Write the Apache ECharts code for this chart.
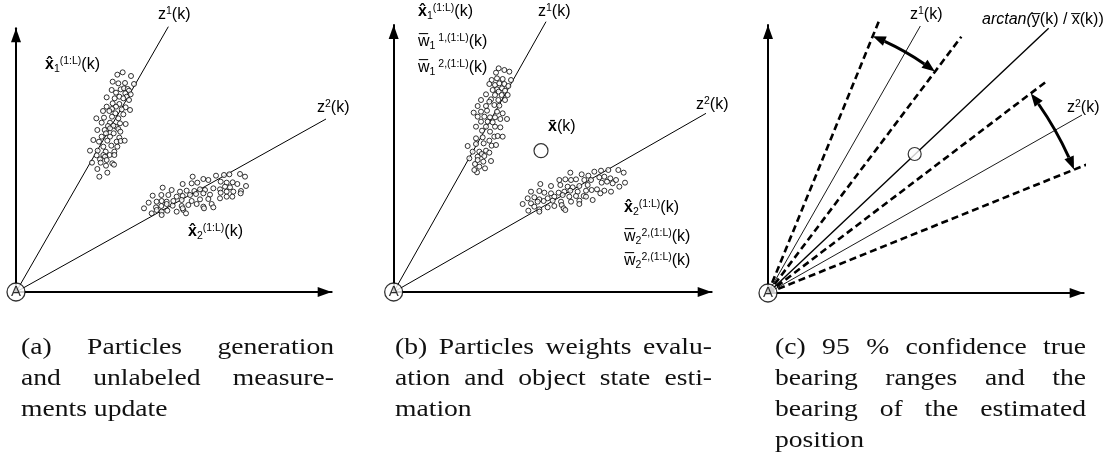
<!DOCTYPE html>
<html><head><meta charset="utf-8">
<script src="https://cdn.jsdelivr.net/npm/echarts@6/dist/echarts.min.js"></script>
<style>html,body{margin:0;padding:0;background:#fff}#c{width:1113px;height:461px}</style>
</head><body><div id="c"></div>
<script>
// ---------- DATA (units: arbitrary, origin = observer A) ----------
const origin = [0, 0];
// panel (a)
const bearingsA = [[457, 796], [930, 519]];            // z1(k), z2(k)
const cloudA1 = [[320,659],[304,652],[345,648],[290,631],[327,627],[307,626],[354,624],[314,608],[287,606],[324,611],[335,609],[339,604],[300,598],[328,596],[344,593],[272,584],[310,586],[332,586],[296,581],[322,581],[339,576],[290,566],[310,564],[272,556],[300,556],[329,554],[288,549],[317,548],[342,546],[261,543],[280,543],[298,536],[322,533],[241,521],[264,523],[288,526],[307,521],[257,508],[282,508],[312,506],[329,504],[276,498],[300,496],[292,499],[244,486],[266,486],[282,491],[307,489],[313,481],[270,476],[293,476],[257,466],[282,466],[310,463],[232,456],[249,451],[274,454],[302,451],[314,453],[326,454],[262,436],[286,439],[304,436],[222,424],[245,424],[269,421],[295,421],[242,410],[262,411],[281,411],[267,406],[295,411],[252,398],[272,396],[228,388],[254,388],[289,386],[270,379],[294,382],[244,369],[274,358],[250,346]];
const cloudA2 = [[530,346],[562,339],[600,349],[624,351],[640,353],[672,354],[687,346],[500,324],[527,326],[544,328],[577,336],[614,331],[632,328],[650,329],[664,324],[467,306],[440,313],[492,301],[512,304],[535,303],[552,308],[567,306],[592,311],[612,308],[627,316],[642,314],[652,301],[675,303],[690,318],[410,289],[436,291],[457,291],[482,286],[500,288],[522,291],[540,294],[562,296],[582,292],[614,298],[632,301],[649,286],[674,296],[398,268],[422,271],[437,273],[452,271],[472,273],[497,276],[527,273],[552,278],[577,279],[612,281],[632,286],[384,251],[420,254],[436,258],[452,264],[470,259],[497,258],[517,261],[542,264],[562,256],[587,264],[422,246],[437,241],[454,244],[482,241],[502,246],[510,236],[564,251],[592,254],[437,231],[407,236],[500,251]];
// panel (b)
const bearingsB = [[457, 811], [937, 536]];
const cloudB1 = [[315,671],[332,666],[307,658],[347,661],[294,636],[310,641],[327,639],[352,636],[287,624],[304,621],[317,626],[332,624],[344,618],[310,608],[325,611],[297,606],[315,601],[334,604],[277,593],[304,591],[324,591],[342,591],[292,578],[314,576],[334,576],[262,576],[287,571],[252,558],[277,558],[302,561],[317,559],[240,538],[262,541],[280,544],[310,541],[327,536],[252,526],[272,526],[289,524],[304,524],[320,519],[340,519],[262,511],[282,511],[297,509],[277,496],[304,496],[320,494],[247,496],[265,484],[289,481],[302,466],[312,468],[327,466],[247,461],[267,464],[287,454],[222,438],[247,444],[270,446],[294,439],[307,441],[237,421],[257,421],[277,424],[264,414],[287,418],[227,401],[252,406],[272,408],[292,393],[244,384],[269,391],[257,376],[274,371],[250,359],[242,366],[252,396]];
const cloudB2 = [[530,358],[564,353],[584,349],[602,361],[622,364],[644,366],[674,366],[690,358],[497,336],[515,338],[532,336],[547,338],[572,336],[592,336],[617,344],[632,346],[650,341],[667,336],[694,328],[440,324],[472,318],[500,321],[522,316],[537,314],[557,318],[582,321],[624,328],[640,331],[657,326],[677,316],[412,301],[437,303],[452,298],[472,296],[495,298],[512,301],[530,304],[552,301],[577,304],[594,306],[610,308],[632,304],[652,301],[402,281],[422,284],[437,278],[462,281],[482,286],[507,291],[527,286],[547,288],[570,288],[597,276],[620,296],[387,264],[412,266],[432,271],[450,273],[477,274],[502,271],[532,271],[557,274],[577,286],[404,244],[422,256],[437,248],[462,254],[482,258],[504,261],[510,251],[557,264],[437,241],[515,246]];
const estimateB = [[442, 424]];
// panel (c)
const bearingsC = [[457, 801], [942, 534]];
const confidenceC = [[332, 814], [580, 769], [837, 636], [1002, 404]];
const estBearingC = [842, 794];
const estimateC = [[440, 417]];
const rangeArcsC = [[832, 67.8, 53.0], [990, 37.2, 22.0]];   // radius, from-angle, to-angle (deg)

// labels
const labelsA = ['{n|z}{sup|1}{n|(k)}', '{b|x\u0302}{sub|1}{sup|(1:L)}{n|(k)}', '{n|z}{sup|2}{n|(k)}', '{b|x\u0302}{sub|2}{sup|(1:L)}{n|(k)}'];
const labelsB = ['{b|x\u0302}{sub|1}{sup|(1:L)}{n|(k)}', '{n|w\u0305}{sub|1}{sup| 1,(1:L)}{n|(k)}', '{n|w\u0305}{sub|1}{sup| 2,(1:L)}{n|(k)}', '{n|z}{sup|1}{n|(k)}', '{n|z}{sup|2}{n|(k)}', '{b|x\u0304}{n|(k)}', '{b|x\u0302}{sub|2}{sup|(1:L)}{n|(k)}', '{n|w\u0305}{sub|2}{sup|2,(1:L)}{n|(k)}', '{n|w\u0305}{sub|2}{sup|2,(1:L)}{n|(k)}'];
const labelsC = ['{n|z}{sup|1}{n|(k)}', '{i|arctan(}{s|y\u0305(k) / x\u0305(k))}', '{n|z}{sup|2}{n|(k)}'];
const captionA = [['(a)', 'Particles', 'generation'], ['and', 'unlabeled', 'measure-'], ['ments', 'update']];
const captionB = [['(b)', 'Particles', 'weights', 'evalu-'], ['ation', 'and', 'object', 'state', 'esti-'], ['mation']];
const captionC = [['(c)', '95', '%', 'confidence', 'true'], ['bearing', 'ranges', 'and', 'the'], ['bearing', 'of', 'the', 'estimated'], ['position']];

// ---------- LAYOUT ----------
const grids = [
  {left: 16, top: 28.33, width: 315.67, height: 263.67, xmax: 947, ymax: 791},
  {left: 393.67, top: 25, width: 318, height: 267, xmax: 954, ymax: 801},
  {left: 768, top: 25, width: 315.67, height: 268, xmax: 947, ymax: 804}
];
const labelPosA = [[158, 15], [45, 65], [317, 108], [188, 232]];
const labelPosB = [[418, 12], [418, 42], [418, 68], [538, 12], [696, 105], [548, 127], [624, 208], [624, 237], [624, 261]];
const labelPosC = [[910, 15], [982, 20], [1067, 108]];
const capBox = {a: [21, 334], b: [395, 712], c: [775, 1086]};
const capY = [348, 379, 410, 441];
const CAP_FONT = '"Liberation Serif", "Times New Roman", serif';
const CAP_SIZE = 23, CAP_SX = 1.2;

const chart = echarts.init(document.getElementById('c'), null, {renderer: 'canvas'});

function axis(i, max) {
  return {
    gridIndex: i, type: 'value', min: 0, max: max,
    axisLine: {show: true, onZero: false, symbol: ['none', 'triangle'], symbolSize: [10, 14], symbolOffset: [0, -7],
      lineStyle: {color: '#000', width: 2}},
    axisTick: {show: false}, axisLabel: {show: false}, splitLine: {show: false}
  };
}
function seg(i, end, style) {
  return {type: 'line', xAxisIndex: i, yAxisIndex: i, data: [origin, end], showSymbol: false, symbol: 'none',
    clip: false, silent: true, lineStyle: Object.assign({color: '#000', width: 1}, style), z: 2};
}
function cloud(i, pts) {
  return {type: 'scatter', xAxisIndex: i, yAxisIndex: i, data: pts, symbol: 'circle', symbolSize: 5, silent: true,
    itemStyle: {color: '#fff', borderColor: '#000', borderWidth: 1}, z: 3};
}
function marker(i, pts, size) {
  return {type: 'scatter', xAxisIndex: i, yAxisIndex: i, data: pts, symbol: 'circle', symbolSize: size, silent: true, clip: false,
    itemStyle: {color: '#fff', borderColor: '#000', borderWidth: 1.2}, z: 5};
}
function observer(i) {
  return {type: 'scatter', xAxisIndex: i, yAxisIndex: i, data: [origin], symbol: 'circle', symbolSize: 18, silent: true, clip: false,
    itemStyle: {color: '#fff', borderColor: '#000', borderWidth: 1.3}, z: 10,
    label: {show: true, position: 'inside', formatter: 'A', color: '#000', fontSize: 15, fontFamily: '"Liberation Sans", Arial'}};
}

const series = [];
bearingsA.forEach(b => series.push(seg(0, b)));
series.push(cloud(0, cloudA1), cloud(0, cloudA2), observer(0));
bearingsB.forEach(b => series.push(seg(1, b)));
series.push(cloud(1, cloudB1), cloud(1, cloudB2), marker(1, estimateB, 14), observer(1));
bearingsC.forEach(b => series.push(seg(2, b, {width: 0.9})));
confidenceC.forEach(b => series.push(seg(2, b, {width: 2.6, type: [7, 4]})));
series.push(seg(2, estBearingC, {width: 1.4}));
series.push(marker(2, estimateC, 13));
series.push({
  type: 'custom', xAxisIndex: 2, yAxisIndex: 2, data: rangeArcsC, silent: true, clip: false, z: 6,
  renderItem: function (params, api) {
    const c = api.coord(origin);
    const r = api.coord([api.value(0), 0])[0] - c[0];
    const a1 = api.value(1) * Math.PI / 180, a2 = api.value(2) * Math.PI / 180;
    const L = 13, W = 10, da = L / r;
    function head(a, sgn) {
      const tip = [c[0] + r * Math.cos(a), c[1] - r * Math.sin(a)];
      const d = [-Math.sin(a) * sgn, -Math.cos(a) * sgn];
      const n = [Math.cos(a), -Math.sin(a)];
      const b = [tip[0] - d[0] * L, tip[1] - d[1] * L];
      return {type: 'polygon', shape: {points: [tip, [b[0] + n[0] * W / 2, b[1] + n[1] * W / 2], [b[0] - n[0] * W / 2, b[1] - n[1] * W / 2]]}, style: {fill: '#000'}};
    }
    return {type: 'group', children: [
      {type: 'arc', shape: {cx: c[0], cy: c[1], r: r, startAngle: -(a1 - da), endAngle: -(a2 + da), clockwise: true},
        style: {stroke: '#000', lineWidth: 3, fill: null}},
      head(a1, 1), head(a2, -1)
    ]};
  }
});
series.push(observer(2));

const SANS = '"Liberation Sans", Arial, sans-serif';
const rich = {
  n: {fontSize: 16, lineHeight: 19, fontFamily: SANS, color: '#000'},
  s: {fontSize: 16, lineHeight: 19, fontFamily: SANS, color: '#000'},
  b: {fontSize: 16, lineHeight: 19, fontWeight: 'bold', fontFamily: SANS, color: '#000'},
  i: {fontSize: 16, lineHeight: 19, fontStyle: 'italic', fontFamily: SANS, color: '#000'},
  sup: {fontSize: 10.5, lineHeight: 11, verticalAlign: 'top', fontFamily: SANS, color: '#000'},
  sub: {fontSize: 10.5, lineHeight: 11, verticalAlign: 'bottom', fontFamily: SANS, color: '#000'}
};
const graphic = [];
function addLabels(texts, pos) {
  texts.forEach((t, k) => graphic.push({type: 'text', x: pos[k][0], y: pos[k][1], silent: true,
    style: {text: t, rich: rich, align: 'left', verticalAlign: 'middle', fontSize: 16, fontFamily: SANS}}));
}
addLabels(labelsA, labelPosA);
addLabels(labelsB, labelPosB);
addLabels(labelsC, labelPosC);

// justified caption paragraphs (last line left-aligned with normal spacing)
const mctx = document.createElement('canvas').getContext('2d');
mctx.font = CAP_SIZE + 'px ' + CAP_FONT;
function addCaption(lines, box) {
  const spaceW = mctx.measureText(' ').width * CAP_SX;
  lines.forEach((words, li) => {
    const widths = words.map(w => mctx.measureText(w).width * CAP_SX);
    const last = li === lines.length - 1;
    let gap = spaceW;
    if (!last && words.length > 1) {
      const total = widths.reduce((s, v) => s + v, 0);
      gap = (box[1] - box[0] - total) / (words.length - 1);
    }
    let x = box[0];
    words.forEach((w, wi) => {
      graphic.push({
        type: 'text', x: x, y: capY[li], scaleX: CAP_SX, originX: 0, originY: 0, silent: true,
        style: {text: w, fontFamily: CAP_FONT, fontSize: CAP_SIZE, fill: '#111', align: 'left', verticalAlign: 'middle'}
      });
      x += widths[wi] + gap;
    });
  });
}
addCaption(captionA, capBox.a);
addCaption(captionB, capBox.b);
addCaption(captionC, capBox.c);

chart.setOption({
  animation: false,
  backgroundColor: '#fff',
  grid: grids.map(g => ({left: g.left, top: g.top, width: g.width, height: g.height})),
  xAxis: grids.map((g, i) => axis(i, g.xmax)),
  yAxis: grids.map((g, i) => axis(i, g.ymax)),
  series: series,
  graphic: graphic
});
</script></body></html>
